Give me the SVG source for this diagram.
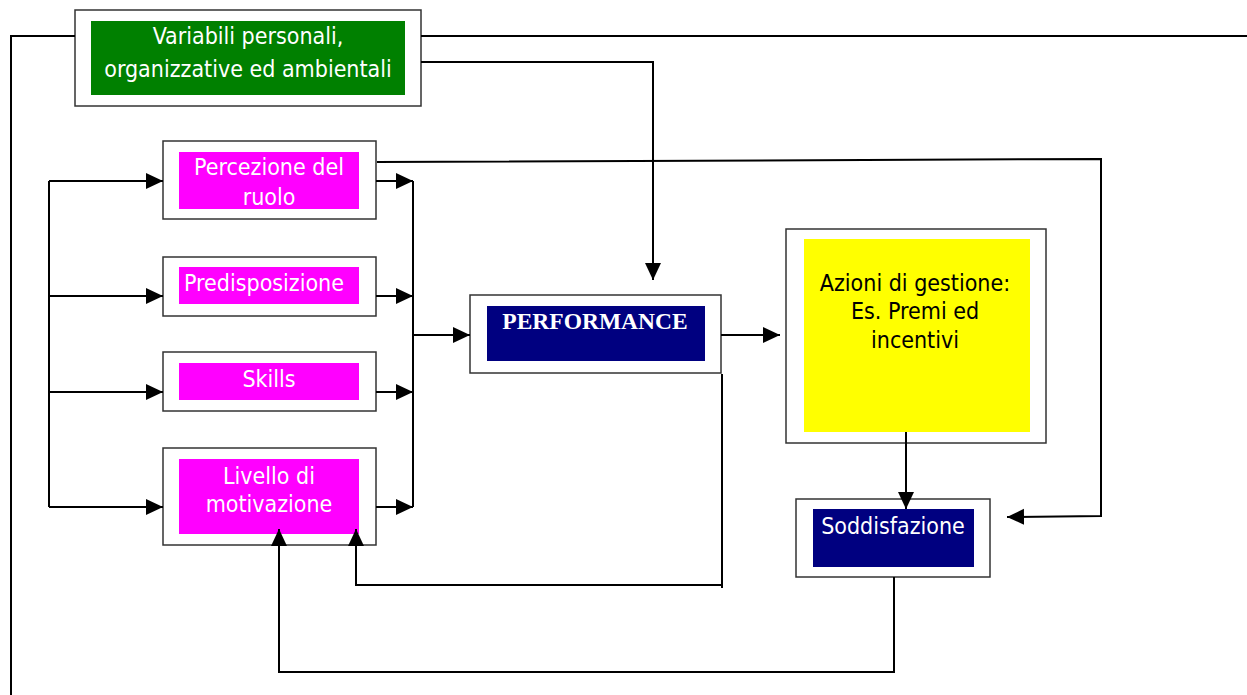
<svg xmlns="http://www.w3.org/2000/svg" width="1247" height="695" viewBox="0 0 1247 695">
<style>
.outer{fill:#fff;stroke:#333;stroke-width:1.5}
.t{font-family:"DejaVu Sans Condensed","DejaVu Sans",sans-serif;font-stretch:condensed;font-size:23px;text-anchor:middle}
.w{fill:#fff}
.k{fill:#000}
.c{fill:none;stroke:#000;stroke-width:2}
</style>
<defs>
<marker id="ah" markerUnits="userSpaceOnUse" markerWidth="18" markerHeight="18" refX="17" refY="8" orient="auto">
<path d="M0,0 L17,8 L0,16 Z" fill="#000"/>
</marker>
</defs>
<g id="variabili">
<rect class="outer" x="75" y="10" width="346" height="96"/>
<rect x="91" y="21" width="314" height="74" fill="#008000"/>
<text class="t w" x="248" y="44">Variabili personali,</text>
<text class="t w" x="248" y="77">organizzative ed ambientali</text>
</g>
<g id="percezione">
<rect class="outer" x="163" y="141" width="213" height="78"/>
<rect x="179" y="152" width="180" height="57" fill="#ff00ff"/>
<text class="t w" x="269" y="175">Percezione del</text>
<text class="t w" x="269" y="205">ruolo</text>
</g>
<g id="predisposizione">
<rect class="outer" x="163" y="257" width="213" height="59"/>
<rect x="179" y="267" width="180" height="37" fill="#ff00ff"/>
<text class="t w" x="264" y="291">Predisposizione</text>
</g>
<g id="skills">
<rect class="outer" x="163" y="352" width="213" height="59"/>
<rect x="179" y="363" width="180" height="37" fill="#ff00ff"/>
<text class="t w" x="269" y="387">Skills</text>
</g>
<g id="livello">
<rect class="outer" x="163" y="448" width="213" height="97"/>
<rect x="179" y="459" width="180" height="75" fill="#ff00ff"/>
<text class="t w" x="269" y="484">Livello di</text>
<text class="t w" x="269" y="512">motivazione</text>
</g>
<g id="performance">
<rect class="outer" x="470" y="295" width="251" height="78"/>
<rect x="487" y="306" width="218" height="55" fill="#000080"/>
<text x="595" y="329" fill="#fff" font-family="'Liberation Serif',serif" font-weight="bold" font-size="23.5" text-anchor="middle">PERFORMANCE</text>
</g>
<g id="azioni">
<rect class="outer" x="786" y="229" width="260" height="214"/>
<rect x="804" y="239" width="226" height="193" fill="#ffff00"/>
<text class="t k" x="915" y="291">Azioni di gestione:</text>
<text class="t k" x="915" y="319">Es. Premi ed</text>
<text class="t k" x="915" y="348">incentivi</text>
</g>
<g id="soddisfazione">
<rect class="outer" x="796" y="499" width="194" height="78"/>
<rect x="813" y="509" width="161" height="58" fill="#000080"/>
<text class="t w" x="893" y="534">Soddisfazione</text>
</g>
<g id="connectors">
<polyline class="c" points="75,36 11,36 11,695"/>
<line class="c" x1="421" y1="36" x2="1247" y2="36"/>
<polyline class="c" points="421,62 653,62 653,280" marker-end="url(#ah)"/>
<line class="c" x1="49" y1="181" x2="49" y2="507"/>
<line class="c" x1="49" y1="181" x2="163" y2="181" marker-end="url(#ah)"/>
<line class="c" x1="49" y1="296" x2="163" y2="296" marker-end="url(#ah)"/>
<line class="c" x1="49" y1="392" x2="163" y2="392" marker-end="url(#ah)"/>
<line class="c" x1="49" y1="507" x2="163" y2="507" marker-end="url(#ah)"/>
<line class="c" x1="376" y1="181" x2="413" y2="181" marker-end="url(#ah)"/>
<line class="c" x1="376" y1="296" x2="413" y2="296" marker-end="url(#ah)"/>
<line class="c" x1="376" y1="392" x2="413" y2="392" marker-end="url(#ah)"/>
<line class="c" x1="376" y1="507" x2="413" y2="507" marker-end="url(#ah)"/>
<line class="c" x1="413" y1="181" x2="413" y2="507"/>
<line class="c" x1="413" y1="335" x2="470" y2="335" marker-end="url(#ah)"/>
<line class="c" x1="721" y1="335" x2="780" y2="335" marker-end="url(#ah)"/>
<polyline class="c" points="377,162 1101,159 1101,516 1007,517" marker-end="url(#ah)"/>
<line class="c" x1="906" y1="432" x2="906" y2="509" marker-end="url(#ah)"/>
<polyline class="c" points="722,374 722,588"/>
<polyline class="c" points="722,585 356,585 356,529" marker-end="url(#ah)"/>
<polyline class="c" points="894,577 894,672 279,672 279,529" marker-end="url(#ah)"/>
</g>
</svg>
